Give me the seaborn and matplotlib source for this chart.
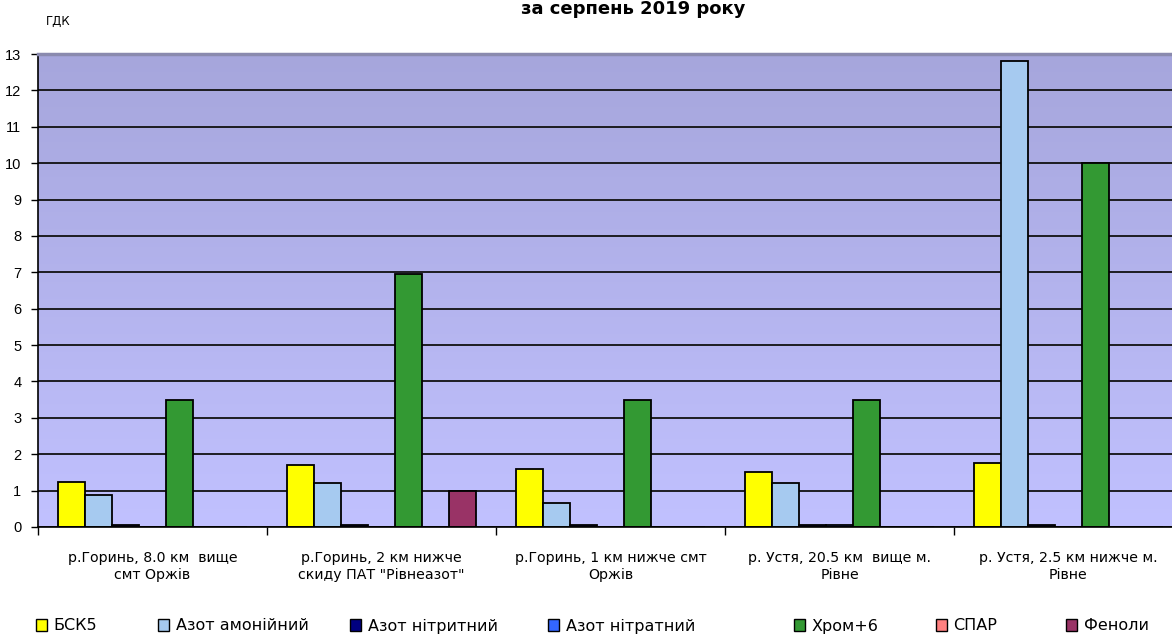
import numpy as np
import pandas as pd
import matplotlib
matplotlib.use("Agg")
import matplotlib.pyplot as plt
from matplotlib.patches import Patch
from matplotlib.colors import LinearSegmentedColormap
import seaborn as sns

# Monitoring stations (x categories)
stations = [
    "р.Горинь, 8.0 км  вище\nсмт Оржів",
    "р.Горинь, 2 км нижче\nскиду ПАТ \"Рівнеазот\"",
    "р.Горинь, 1 км нижче смт\nОржів",
    "р. Устя, 20.5 км  вище м.\nРівне",
    "р. Устя, 2.5 км нижче м.\nРівне",
]

# Indicators (in multiples of ГДК)
indicators = ["БСК5", "Азот амонійний", "Азот нітритний", "Азот нітратний",
              "Хром+6", "СПАР", "Феноли"]

bsk5 = [1.25, 1.70, 1.60, 1.50, 1.76]
azot_amon = [0.88, 1.20, 0.66, 1.20, 12.80]
azot_nitryt = [0.05, 0.05, 0.05, 0.05, 0.05]
azot_nitrat = [0.0, 0.0, 0.0, 0.05, 0.0]
khrom6 = [3.50, 6.95, 3.50, 3.50, 10.0]
spar = [0.0, 0.0, 0.0, 0.0, 0.0]
fenoly = [0.0, 1.00, 0.0, 0.0, 0.0]

colors = ["#FFFF00", "#A6CAF0", "#000080", "#3366FF", "#339933", "#FF8080", "#993366"]
yticks = list(range(0, 14))

series = [bsk5, azot_amon, azot_nitryt, azot_nitrat, khrom6, spar, fenoly]
df = pd.DataFrame(
    [(st, ind, vals[i]) for ind, vals in zip(indicators, series)
     for i, st in enumerate(stations)],
    columns=["station", "indicator", "value"],
)

sns.set_style("white")
plt.rcParams["font.family"] = ["DejaVu Sans"]
plt.rcParams["text.color"] = "black"
plt.rcParams["xtick.color"] = "black"
plt.rcParams["ytick.color"] = "black"
plt.rcParams["xtick.labelcolor"] = "black"
plt.rcParams["ytick.labelcolor"] = "black"

W, H = 1172, 635
fig = plt.figure(figsize=(W / 100, H / 100), dpi=100)
ax = fig.add_axes([38 / W, 1 - 527 / H, 1145 / W, (527 - 54) / H])

# Gradient plot-area background
cmap = LinearSegmentedColormap.from_list("bg", ["#C1C1FF", "#A6A6DC"])
grad = np.linspace(0, 1, 256).reshape(-1, 1)
ax.imshow(grad, extent=(0, 1, 0, 1), transform=ax.transAxes, aspect="auto",
          cmap=cmap, origin="lower", zorder=-2, interpolation="bicubic")

sns.barplot(data=df, x="station", y="value", hue="indicator", order=stations,
            hue_order=indicators, palette=colors, width=0.825, gap=0,
            edgecolor="black", linewidth=1.3, saturation=1, ax=ax, legend=False,
            errorbar=None)

ax.set_xlim(-0.5, len(stations) - 0.5)
ax.set_ylim(0, 13)
ax.set_yticks(yticks)
ax.set_yticklabels([str(t) for t in yticks], fontsize=10.5, family="Liberation Sans")
ax.yaxis.grid(True, color="#111111", linewidth=1.3)
ax.set_axisbelow(True)
ax.tick_params(axis="y", length=5, width=1, color="black", pad=7, left=True)

# Category labels centred, tick marks between groups
ax.set_xticks(range(len(stations)))
ax.set_xticklabels(stations, fontsize=10.2, linespacing=1.3)
ax.tick_params(axis="x", length=0, pad=17)
ax.set_xticks(np.arange(-0.5, len(stations)), minor=True)
ax.tick_params(axis="x", which="minor", length=6, width=1, color="black", bottom=True)
ax.set_xlabel("")
ax.set_ylabel("")

for side in ["left", "bottom"]:
    ax.spines[side].set_color("black")
    ax.spines[side].set_linewidth(1.2)
ax.spines["right"].set_visible(False)
ax.spines["top"].set_color("#8A8AAE")
ax.spines["top"].set_linewidth(2.5)

fig.text(58 / W, 1 - 21 / H, "ГДК", fontsize=8.5, ha="center", va="center")
fig.text(633 / W, 1 - 14 / H, "за серпень 2019 року", fontsize=13, fontweight="bold",
         ha="center", va="baseline")

# Legend row along the bottom
legend_x = [36, 158, 350, 548, 794, 936, 1066]
for name, col, lx in zip(indicators, colors, legend_x):
    fig.legend(handles=[Patch(facecolor=col, edgecolor="black", linewidth=1)],
               labels=[name], loc="center left", bbox_to_anchor=(lx / W, 1 - 626 / H),
               frameon=False, fontsize=11.5, handlelength=0.7, handleheight=0.7,
               handletextpad=0.4, borderpad=0, borderaxespad=0)

fig.savefig("out.png", dpi=100, facecolor="white")
